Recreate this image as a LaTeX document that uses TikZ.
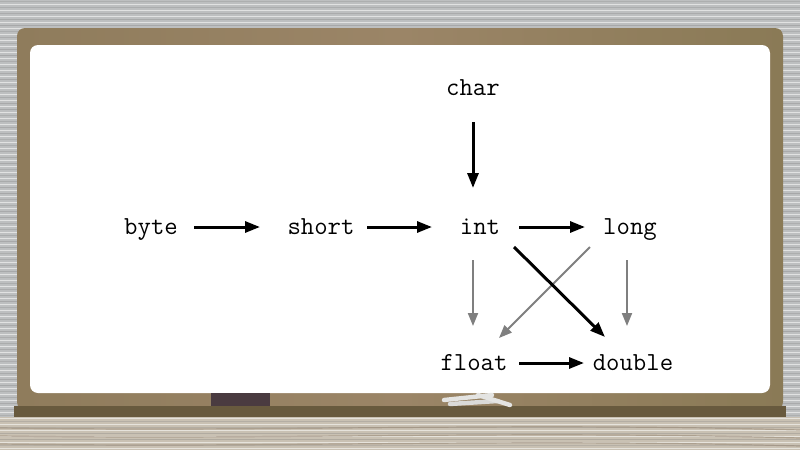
\documentclass[tikz,border=0pt]{standalone}
\usetikzlibrary{arrows.meta}
\definecolor{woodbase}{HTML}{BDBFC0}
\definecolor{woodlow}{HTML}{C9C1B3}
\definecolor{grain}{HTML}{9A8A78}
\definecolor{frameL}{HTML}{8F7C5C}
\definecolor{frameM}{HTML}{9B8567}
\definecolor{frameR}{HTML}{8A7A56}
\definecolor{ledge}{HTML}{685A3E}
\definecolor{eraser}{HTML}{4A3B40}
\definecolor{chalk}{HTML}{E4E4E2}
\definecolor{conv}{HTML}{7F7F7F}
\tikzset{
  lbl/.style={font=\ttfamily\fontsize{13pt}{15pt}\selectfont, inner sep=0pt, anchor=base},
  blk/.style={draw=black, line width=1.5pt, -{Triangle[length=7.5pt,width=5.5pt]}},
  gry/.style={draw=conv, line width=1pt, -{Triangle[length=6.5pt,width=5pt]}},
}
\begin{document}
\begin{tikzpicture}[x=0.5pt,y=-0.5pt]
\useasboundingbox (0,0) rectangle (800,450);
% wood background
\fill[woodbase] (0,0) rectangle (800,450);
\fill[woodlow] (0,417) rectangle (800,450);
\foreach \i in {0,...,149}{
  \pgfmathsetmacro\sh{int(mod(\i*37,23))}
  \pgfmathsetmacro\yy{3*\i+1.5}
  \ifodd\i
    \draw[white, opacity=0.55, line width=0.8pt] (0,\yy) -- (800,\yy);
  \else
    \draw[black!\sh!gray, opacity=0.25, line width=0.6pt] (0,\yy) -- (800,\yy);
  \fi
}
\foreach \yy in {428,436,444}{
  \draw[grain, opacity=0.6, line width=0.6pt] (0,\yy) .. controls (300,\yy+4) and (500,\yy-6) .. (800,\yy+2);
}
% board frame
\shade[left color=frameL, right color=frameR, middle color=frameM, rounded corners=4pt] (17,28) rectangle (783,410);
\fill[white, rounded corners=4pt] (30,45) rectangle (770,393);
% ledge, eraser, chalk
\fill[ledge] (14,406) rectangle (786,417);
\fill[eraser] (211,393) rectangle (270,406);
\draw[chalk, line width=2.2pt, line cap=round] (444,400) -- (492,395);
\draw[chalk!90!gray, line width=2.2pt, line cap=round] (450,404) -- (498,401);
\draw[chalk, line width=2.2pt, line cap=round] (478,395) -- (510,405);
% labels
\node[lbl] (char)   at (473,95)  {char};
\node[lbl] (byte)   at (151,234) {byte};
\node[lbl] (short)  at (321,234) {short};
\node[lbl] (int)    at (480,234) {int};
\node[lbl] (long)   at (630,234) {long};
\node[lbl] (float)  at (474,370) {float};
\node[lbl] (double) at (633,370) {double};
% conversions
\draw[blk] ([shift={(43,-7)}]byte.base) -- ([shift={(-61,-7)}]short.base);
\draw[blk] ([shift={(46,-7)}]short.base) -- ([shift={(-48,-7)}]int.base);
\draw[blk] ([shift={(0,27)}]char.base) -- ([shift={(-7,-46)}]int.base);
\draw[blk] ([shift={(39,-7)}]int.base) -- ([shift={(-45,-7)}]long.base);
\draw[gry] ([shift={(-7,26)}]int.base) -- ([shift={(-1,-44)}]float.base);
\draw[gry] ([shift={(-3,26)}]long.base) -- ([shift={(-6,-44)}]double.base);
\draw[gry] ([shift={(-40,13)}]long.base) -- ([shift={(25,-32)}]float.base);
\draw[blk] ([shift={(34,13)}]int.base) -- ([shift={(-28,-33)}]double.base);
\draw[blk] ([shift={(45,-7)}]float.base) -- ([shift={(-49,-7)}]double.base);
\end{tikzpicture}
\end{document}
